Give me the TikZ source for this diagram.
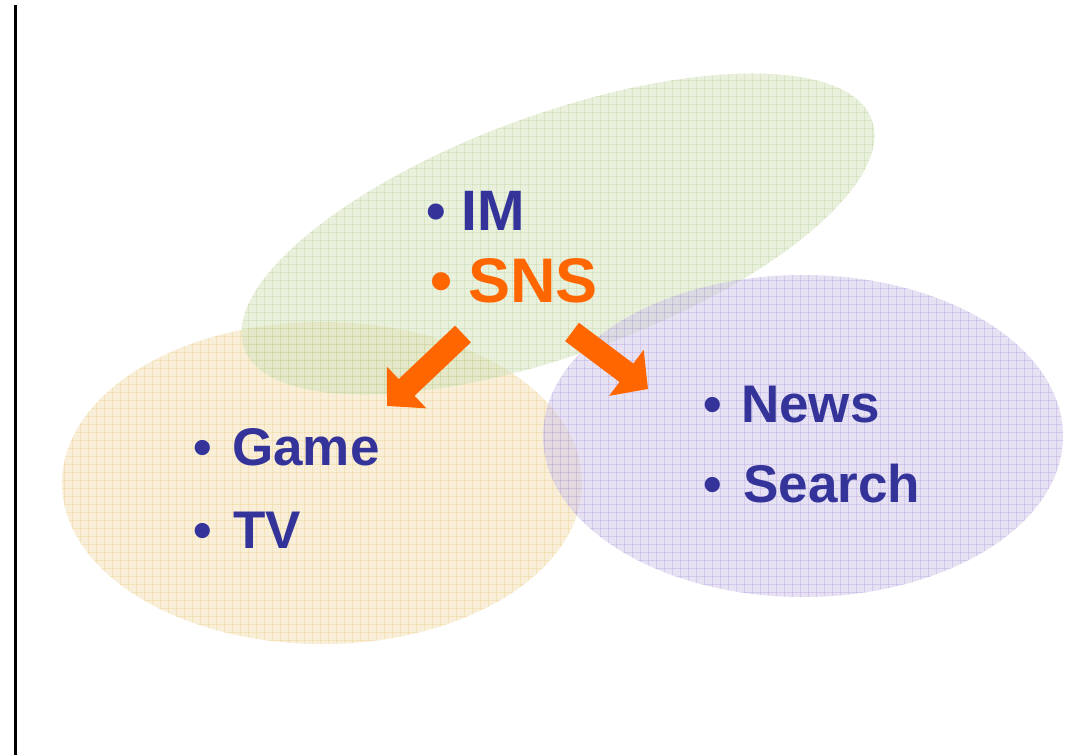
\documentclass[tikz,border=0pt]{standalone}
\usepackage{fontspec}
\setmainfont{Liberation Sans}
\usetikzlibrary{arrows.meta}
\definecolor{txtblue}{RGB}{51,51,153}
\definecolor{arrorange}{RGB}{255,102,0}
\definecolor{gfill}{RGB}{212,228,188}
\definecolor{ggrid}{RGB}{175,200,140}
\definecolor{ofill}{RGB}{244,224,178}
\definecolor{ogrid}{RGB}{232,195,115}
\definecolor{pfill}{RGB}{207,196,232}
\definecolor{pgrid}{RGB}{165,145,215}
\tikzset{
  bul/.style={anchor=base, inner sep=0pt, font=\fontsize{53}{60}\selectfont\bfseries, text=txtblue},
  lbl/.style={anchor=base west, inner sep=0pt, font=\fontsize{53}{60}\selectfont\bfseries, text=txtblue},
  arr/.style={line width=23pt, draw=arrorange, -{Triangle[length=27pt,width=56pt]}},
  gridline/.style={line width=0.8pt, opacity=0.28}
}
\newcommand{\mygrid}[1]{%
  \foreach \gx in {0,8,...,1072} {\draw[gridline,#1] (\gx,0) -- (\gx,755);}
  \foreach \gy in {0,8,...,752} {\draw[gridline,#1] (0,\gy) -- (1075,\gy);}
}
\begin{document}
\begin{tikzpicture}[x=1pt,y=-1pt]
\useasboundingbox (0,0) rectangle (1075,755);
\fill[white] (0,0) rectangle (1075,755);
% orange ellipse
\begin{scope}
  \clip (322,483) ellipse [x radius=260, y radius=161];
  \fill[ofill, opacity=0.5] (0,0) rectangle (1075,755);
  \mygrid{ogrid}
\end{scope}
% green ellipse
\begin{scope}
  \clip[rotate around={20:(558,234)}] (558,234) ellipse [x radius=334, y radius=120];
  \fill[gfill, opacity=0.5] (0,0) rectangle (1075,755);
  \mygrid{ggrid}
\end{scope}
% purple ellipse
\begin{scope}
  \clip (803,436) ellipse [x radius=260, y radius=161];
  \fill[pfill, opacity=0.5] (0,0) rectangle (1075,755);
  \mygrid{pgrid}
\end{scope}
% left rule
\draw[line width=3pt] (15,5) -- (15,755);
% texts
\node[bul, font=\fontsize{56}{60}\selectfont\bfseries] (bim) at (436,230) {•};
\node[lbl, font=\fontsize{57}{60}\selectfont\bfseries] (im) at (461,230) {IM};
\node[bul, text=arrorange, font=\fontsize{63}{66}\selectfont\bfseries] (bsns) at (442,302) {•};
\node[lbl, text=arrorange, font=\fontsize{63}{66}\selectfont\bfseries] (sns) at (468,302) {SNS};
\node[bul] (bgame) at (203,465) {•};
\node[lbl] (game) at (232,465) {Game};
\node[bul] (btv) at (203,548) {•};
\node[lbl] (tv) at (233,548) {TV};
\node[bul] (bnews) at (713,422) {•};
\node[lbl] (news) at (741,422) {News};
\node[bul] (bsearch) at (713,502) {•};
\node[lbl] (search) at (743,502) {Search};
% arrows
\coordinate (t1) at (463,334);
\coordinate (h1) at (387,406);
\coordinate (t2) at (572,332);
\coordinate (h2) at (648,389);
\draw[arr] (t1) -- (h1);
\draw[arr] (t2) -- (h2);
\end{tikzpicture}
\end{document}
